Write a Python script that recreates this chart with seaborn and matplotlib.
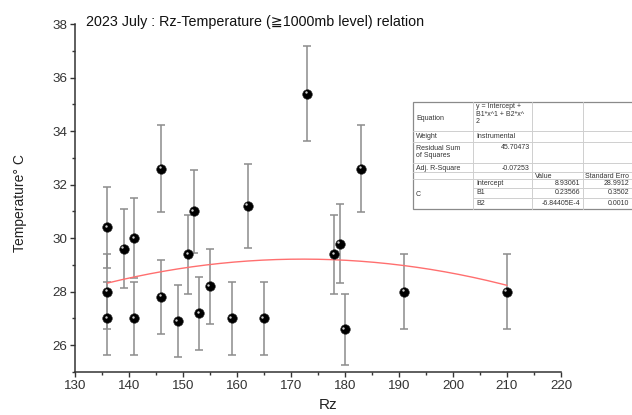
import numpy as np
import pandas as pd
import matplotlib
matplotlib.use("Agg")
import matplotlib.pyplot as plt
import matplotlib.transforms as mtransforms
from matplotlib.ticker import MultipleLocator
import seaborn as sns

# ---- data ----
rz = [136, 136, 136, 139, 141, 141, 146, 146, 149, 151, 152, 153, 155, 159,
      162, 165, 173, 178, 179, 180, 183, 191, 210]
temp = [30.4, 28.0, 27.0, 29.6, 30.0, 27.0, 32.6, 27.8, 26.9, 29.4, 31.0, 27.2,
        28.2, 27.0, 31.2, 27.0, 35.4, 29.4, 29.8, 26.6, 32.6, 28.0, 28.0]
err = [1.52, 1.40, 1.35, 1.48, 1.50, 1.35, 1.63, 1.39, 1.35, 1.47, 1.55, 1.36,
       1.41, 1.35, 1.56, 1.35, 1.77, 1.47, 1.49, 1.33, 1.63, 1.40, 1.40]
# quadratic fit coefficients shown in the table: y = Intercept + B1*x + B2*x^2
fit_coef = [8.93061, 0.23566, -6.84405e-4]
fit_range = [136, 210]

title = "2023 July : Rz-Temperature (\u22671000mb level) relation"
xlabel = "Rz"
ylabel = "Temperature\u00b0 C"

table_rows = [
    ("Equation", "y = Intercept +\nB1*x^1 + B2*x^\n2"),
    ("Weight", "Instrumental"),
    ("Residual Sum\nof Squares", "45.70473"),
    ("Adj. R-Square", "-0.07253"),
]
param_names = ["Intercept", "B1", "B2"]
param_values = ["8.93061", "0.23566", "-6.84405E-4"]
param_errors = ["28.9912", "0.3502", "0.0010"]

# ---- figure ----
W, H = 632, 415
sns.set_style("ticks")
plt.rcParams["font.family"] = ["Liberation Sans", "DejaVu Sans"]
fig = plt.figure(figsize=(W / 100, H / 100), dpi=100)
ax = fig.add_axes([75 / W, 1 - 372 / H, (561 - 75) / W, (372 - 24) / H])

df = pd.DataFrame({"Rz": rz, "T": temp, "err": err})

ax.errorbar(df["Rz"], df["T"], yerr=df["err"], fmt="none", ecolor="#8c8c8c",
            elinewidth=1.1, capsize=2.6, capthick=1.1, zorder=2)

xs = np.linspace(fit_range[0], fit_range[1], 200)
fit_df = pd.DataFrame({"x": xs, "y": np.polyval(fit_coef[::-1], xs)})
sns.lineplot(data=fit_df, x="x", y="y", ax=ax, color="#ff6f6f", lw=1.0, zorder=3)

sns.scatterplot(data=df, x="Rz", y="T", ax=ax, color="black", s=48,
                edgecolor="#333333", linewidth=0.4, zorder=4)
hl = mtransforms.offset_copy(ax.transData, fig=fig, x=-1.6, y=1.6, units="dots")
ax.scatter(df["Rz"], df["T"], s=3, color="#d0d0d0", transform=hl, zorder=5,
           linewidths=0)

ax.set_xlim(130, 220)
ax.set_ylim(25, 38)
ax.xaxis.set_major_locator(MultipleLocator(10))
ax.xaxis.set_minor_locator(MultipleLocator(5))
ax.yaxis.set_major_locator(MultipleLocator(2))
ax.yaxis.set_minor_locator(MultipleLocator(1))
ax.set_yticks(np.arange(26, 38.1, 2))

for s in ["top", "right"]:
    ax.spines[s].set_visible(False)
for s in ["left", "bottom"]:
    ax.spines[s].set_color("#333333")
    ax.spines[s].set_linewidth(1.1)
ax.tick_params(which="major", direction="out", length=3.5, width=1.0,
               color="#333333", labelsize=9.6, labelcolor="#333333", pad=2)
ax.tick_params(which="minor", direction="out", length=2.2, width=1.0,
               color="#333333")
ax.set_xlabel(xlabel, fontsize=11, color="#222222")
ax.set_ylabel(ylabel, fontsize=10, color="#222222")
ax.xaxis.set_label_coords((328 - 75) / (561 - 75), -(398 - 372) / (372 - 24))
ax.yaxis.set_label_coords(-(75 - 27) / (561 - 75), (372 - 203) / (372 - 24))

fig.text(255 / W, 1 - 22 / H, title, ha="center", va="center", fontsize=10.3,
         color="#111111")

# ---- statistics table (figure pixel coordinates) ----
def fx(x):
    return x / W

def fy(y):
    return 1 - y / H

tl, tt, tb = 413, 102, 209
cols = [413, 473, 532, 583]
inner = "#cfcfcf"
outer = "#8a8a8a"
bg = plt.Rectangle((fx(tl), fy(tb)), fx(W + 5) - fx(tl), fy(tt) - fy(tb),
                   transform=fig.transFigure, facecolor="white", edgecolor=outer,
                   linewidth=0.9, zorder=6)
fig.add_artist(bg)

def hline(y, x0, x1, c=inner):
    fig.add_artist(plt.Line2D([fx(x0), fx(x1)], [fy(y), fy(y)], color=c, lw=0.7,
                              transform=fig.transFigure, zorder=7))

def vline(x, y0, y1, c=inner):
    fig.add_artist(plt.Line2D([fx(x), fx(x)], [fy(y0), fy(y1)], color=c, lw=0.7,
                              transform=fig.transFigure, zorder=7))

for y in [131, 142, 163, 172, 179]:
    hline(y, tl, W + 5)
for y in [188, 198]:
    hline(y, cols[1], W + 5)
for x in cols[1:]:
    vline(x, tt, tb)

fs = 5.0
tc = "#333333"

def t(x, y, s, ha="left", va="center"):
    fig.text(fx(x), fy(y), s, ha=ha, va=va, fontsize=fs, color=tc, zorder=8,
             linespacing=1.05)

label_y = [118, 136, 152, 168]
value_y = [114, 136, 147, 168]
for (lab, val), ly, vy in zip(table_rows, label_y, value_y):
    t(416, ly, lab)
    if lab in ("Equation", "Weight"):
        t(476, vy, val)
    else:
        t(530, vy, val, ha="right")

t(535, 176, "Value")
t(585, 176, "Standard Erro")
t(416, 194, "C")
for name, val, er, y in zip(param_names, param_values, param_errors,
                            [183, 193, 203]):
    t(476, y, name)
    t(580, y, val, ha="right")
    t(629, y, er, ha="right")

fig.savefig("out.png", dpi=100)
